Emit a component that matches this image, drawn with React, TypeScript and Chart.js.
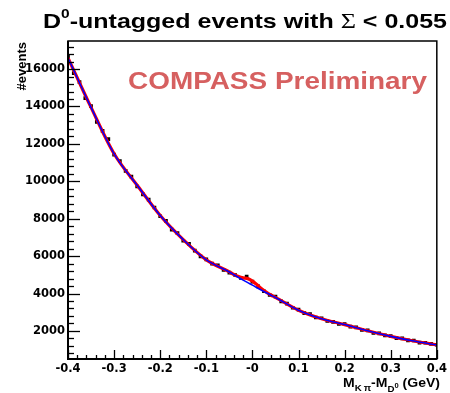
import React, { useEffect, useRef } from "react";
import { Chart, registerables } from "chart.js";

Chart.register(...registerables);

// ---------- data ----------
const dataX = [
  -0.4, -0.3875, -0.375, -0.3625, -0.35, -0.3375, -0.325, -0.3125, -0.3, -0.2875,
  -0.275, -0.2625, -0.25, -0.2375, -0.225, -0.2125, -0.2, -0.1875, -0.175, -0.1625,
  -0.15, -0.1375, -0.125, -0.1125, -0.1, -0.0875, -0.075, -0.0625, -0.05, -0.0375,
  -0.025, -0.0125, 0, 0.0125, 0.025, 0.0375, 0.05, 0.0625, 0.075, 0.0875,
  0.1, 0.1125, 0.125, 0.1375, 0.15, 0.1625, 0.175, 0.1875, 0.2, 0.2125,
  0.225, 0.2375, 0.25, 0.2625, 0.275, 0.2875, 0.3, 0.3125, 0.325, 0.3375,
  0.35, 0.3625, 0.375, 0.3875, 0.4,
];
const dataEvents = [
  16650, 15780, 15300, 14450, 14020, 13180, 12700, 12250, 11430, 11080,
  10560, 10250, 9720, 9300, 9020, 8600, 8130, 7880, 7420, 7230,
  6820, 6650, 6290, 5990, 5830, 5600, 5510, 5260, 5120, 4990,
  4830, 4900, 4640, 4380, 4120, 3920, 3830, 3580, 3460, 3240,
  3140, 2950, 2900, 2720, 2680, 2530, 2480, 2380, 2360, 2230,
  2190, 2060, 2030, 1900, 1870, 1760, 1730, 1620, 1600, 1500,
  1490, 1380, 1370, 1310, 1260,
];

const fitX = [
  -0.4, -0.35, -0.3, -0.25, -0.2, -0.15, -0.1, -0.05, -0.04, -0.03,
  -0.02, -0.01, 0, 0.01, 0.02, 0.03, 0.04, 0.05, 0.1, 0.15,
  0.2, 0.25, 0.3, 0.35, 0.4,
];
const backgroundFit = [
  16600, 13950, 11470, 9790, 8170, 6880, 5800, 5150, 5002, 4858,
  4718, 4582, 4450, 4309, 4172, 4040, 3912, 3790, 3107, 2650,
  2340, 2010, 1710, 1460, 1250,
];
const totalFit = [
  16600, 13950, 11470, 9790, 8170, 6880, 5800, 5155, 5017, 4908,
  4838, 4797, 4660, 4469, 4257, 4075, 3922, 3792, 3107, 2650,
  2340, 2010, 1710, 1460, 1250,
];

const xTickValues = [-0.4, -0.3, -0.2, -0.1, 0, 0.1, 0.2, 0.3, 0.4];
const xTickLabels = ["-0.4", "-0.3", "-0.2", "-0.1", "-0", "0.1", "0.2", "0.3", "0.4"];
const yTickValues = [2000, 4000, 6000, 8000, 10000, 12000, 14000, 16000];
const yTickLabels = ["2000", "4000", "6000", "8000", "10000", "12000", "14000", "16000"];
const yMinorStep = 400;
const xMinorStep = 0.02;
const xRange = [-0.4, 0.4];
const yRange = [500, 17500];

const titleParts = { pre: "D", sup: "0", mid: "-untagged events with ", sym: "\u03A3", post: " < 0.055" };
const watermark = "COMPASS Preliminary";
const yTitle = "#events";

const FONT = '"Liberation Sans", Arial, Helvetica, sans-serif';
const TICKFONT = '"DejaVu Sans", "Liberation Sans", sans-serif';

type Piece = [string, string, number];

function drawPieces(ctx: CanvasRenderingContext2D, pieces: Piece[], x: number, y: number, width: number, align: "left" | "right") {
  let total = 0;
  for (const [t, f] of pieces) {
    ctx.font = f;
    total += ctx.measureText(t).width;
  }
  const s = width / total;
  ctx.save();
  ctx.translate(align === "left" ? x : x - width, y);
  ctx.scale(s, 1);
  let tx = 0;
  for (const [t, f, dy] of pieces) {
    ctx.font = f;
    ctx.fillText(t, tx, dy);
    tx += ctx.measureText(t).width;
  }
  ctx.restore();
}

const rootPlugin = {
  id: "rootDecor",
  afterDatasetsDraw(chart: any) {
    const { ctx, chartArea: a, scales } = chart;
    const xs = scales.x;
    const ys = scales.y;
    ctx.save();
    ctx.strokeStyle = "#000";
    ctx.lineWidth = 1.3;
    const yStart = Math.ceil(yRange[0] / yMinorStep);
    const yEnd = Math.floor(yRange[1] / yMinorStep);
    for (let i = yStart; i <= yEnd; i++) {
      const v = i * yMinorStep;
      const major = v % 2000 === 0;
      const py = Math.round(ys.getPixelForValue(v)) + 0.5;
      ctx.beginPath();
      ctx.moveTo(a.left, py);
      ctx.lineTo(a.left + (major ? 12 : 6), py);
      ctx.stroke();
    }
    const n = Math.round((xRange[1] - xRange[0]) / xMinorStep);
    for (let i = 0; i <= n; i++) {
      const v = xRange[0] + i * xMinorStep;
      const major = i % 5 === 0;
      const px = Math.round(xs.getPixelForValue(v)) + 0.5;
      ctx.beginPath();
      ctx.moveTo(px, a.bottom);
      ctx.lineTo(px, a.bottom - (major ? 9 : 4));
      ctx.stroke();
    }
    ctx.lineWidth = 1.5;
    ctx.strokeRect(a.left, a.top, a.right - a.left, a.bottom - a.top);
    ctx.lineWidth = 2;
    ctx.beginPath();
    ctx.moveTo(a.left, a.top);
    ctx.lineTo(a.left, a.bottom);
    ctx.lineTo(a.right, a.bottom);
    ctx.stroke();
    ctx.restore();
  },
  afterDraw(chart: any) {
    const { ctx, chartArea: a } = chart;
    ctx.save();
    ctx.fillStyle = "#000";
    ctx.textBaseline = "alphabetic";
    ctx.textAlign = "left";

    // title
    const big = `bold 21px ${FONT}`;
    const small = `bold 13px ${FONT}`;
    const symF = `22px "Liberation Serif", "DejaVu Serif", serif`;
    drawPieces(
      ctx,
      [
        [titleParts.pre, big, 0],
        [titleParts.sup, small, -10],
        [titleParts.mid, big, 0],
        [titleParts.sym, symF, 0],
        [titleParts.post, big, 0],
      ],
      43,
      28,
      404,
      "left"
    );

    // watermark
    ctx.fillStyle = "rgb(214, 96, 96)";
    drawPieces(ctx, [[watermark, `bold 23px ${FONT}`, 0]], 128, 89, 299, "left");

    // y title
    ctx.fillStyle = "#000";
    ctx.save();
    ctx.translate(22, a.top + 1);
    ctx.rotate(-Math.PI / 2);
    ctx.font = `bold 13px ${FONT}`;
    ctx.textAlign = "right";
    ctx.textBaseline = "middle";
    ctx.fillText(yTitle, 0, 0);
    ctx.restore();

    // x title
    const main = `bold 13px ${FONT}`;
    const sub = `bold 9px ${FONT}`;
    const sub2 = `bold 7px ${FONT}`;
    drawPieces(
      ctx,
      [
        ["M", main, 0],
        ["K\u2009\u03C0", sub, 4],
        ["-M", main, 0],
        ["D", sub, 5],
        ["0", sub2, 1],
        [" (GeV)", main, 0],
      ],
      440,
      387,
      97,
      "right"
    );
    ctx.restore();
  },
};

export default function App() {
  const ref = useRef<HTMLCanvasElement | null>(null);
  useEffect(() => {
    if (!ref.current) return;
    const chart = new Chart(ref.current, {
      type: "scatter",
      data: {
        datasets: [
          {
            type: "line",
            label: "background",
            data: fitX.map((x, i) => ({ x, y: backgroundFit[i] })),
            borderColor: "#0000ff",
            borderWidth: 1.6,
            pointRadius: 0,
            cubicInterpolationMode: "monotone",
            fill: false,
            order: 0,
          } as any,
          {
            type: "line",
            label: "signal + background",
            data: fitX.map((x, i) => ({ x, y: totalFit[i] })),
            borderColor: "#ff0000",
            borderWidth: 3.2,
            pointRadius: 0,
            cubicInterpolationMode: "monotone",
            fill: false,
            order: 1,
          } as any,
          {
            label: "data",
            data: dataX.map((x, i) => ({ x, y: dataEvents[i] })),
            pointStyle: "rect",
            pointRadius: 2.6,
            backgroundColor: "#000",
            borderColor: "#000",
            borderWidth: 0,
            order: 2,
          } as any,
        ],
      },
      options: {
        responsive: false,
        animation: false,
        devicePixelRatio: 1,
        layout: { padding: { left: 0, right: 11, top: 41, bottom: 0 } },
        plugins: { legend: { display: false }, tooltip: { enabled: false }, title: { display: false } },
        scales: {
          x: {
            type: "linear",
            min: xRange[0],
            max: xRange[1],
            grid: { display: false, drawTicks: false },
            border: { display: false },
            afterBuildTicks: (s: any) => {
              s.ticks = xTickValues.map((v) => ({ value: v }));
            },
            afterFit: (s: any) => {
              s.height = 34;
            },
            ticks: {
              autoSkip: false,
              maxRotation: 0,
              padding: 3,
              color: "#000",
              font: { family: TICKFONT, size: 11.5, weight: "bold" },
              callback: (v: any) => {
                const i = xTickValues.findIndex((t) => Math.abs(t - Number(v)) < 1e-9);
                return i >= 0 ? xTickLabels[i] : "";
              },
            },
          },
          y: {
            type: "linear",
            min: yRange[0],
            max: yRange[1],
            grid: { display: false, drawTicks: false },
            border: { display: false },
            afterBuildTicks: (s: any) => {
              s.ticks = yTickValues.map((v) => ({ value: v }));
            },
            afterFit: (s: any) => {
              s.width = 68;
            },
            ticks: {
              autoSkip: false,
              padding: 3,
              color: "#000",
              font: { family: TICKFONT, size: 11.5, weight: "bold" },
              callback: (v: any) => {
                const i = yTickValues.indexOf(Number(v));
                return i >= 0 ? yTickLabels[i] : "";
              },
            },
          },
        },
      },
      plugins: [rootPlugin],
    });
    return () => chart.destroy();
  }, []);
  return (
    <div style={{ position: "absolute", left: 0, top: 0, width: 450, height: 393, background: "#fff" }}>
      <canvas ref={ref} width={450} height={393} style={{ width: 450, height: 393, display: "block" }} />
    </div>
  );
}
